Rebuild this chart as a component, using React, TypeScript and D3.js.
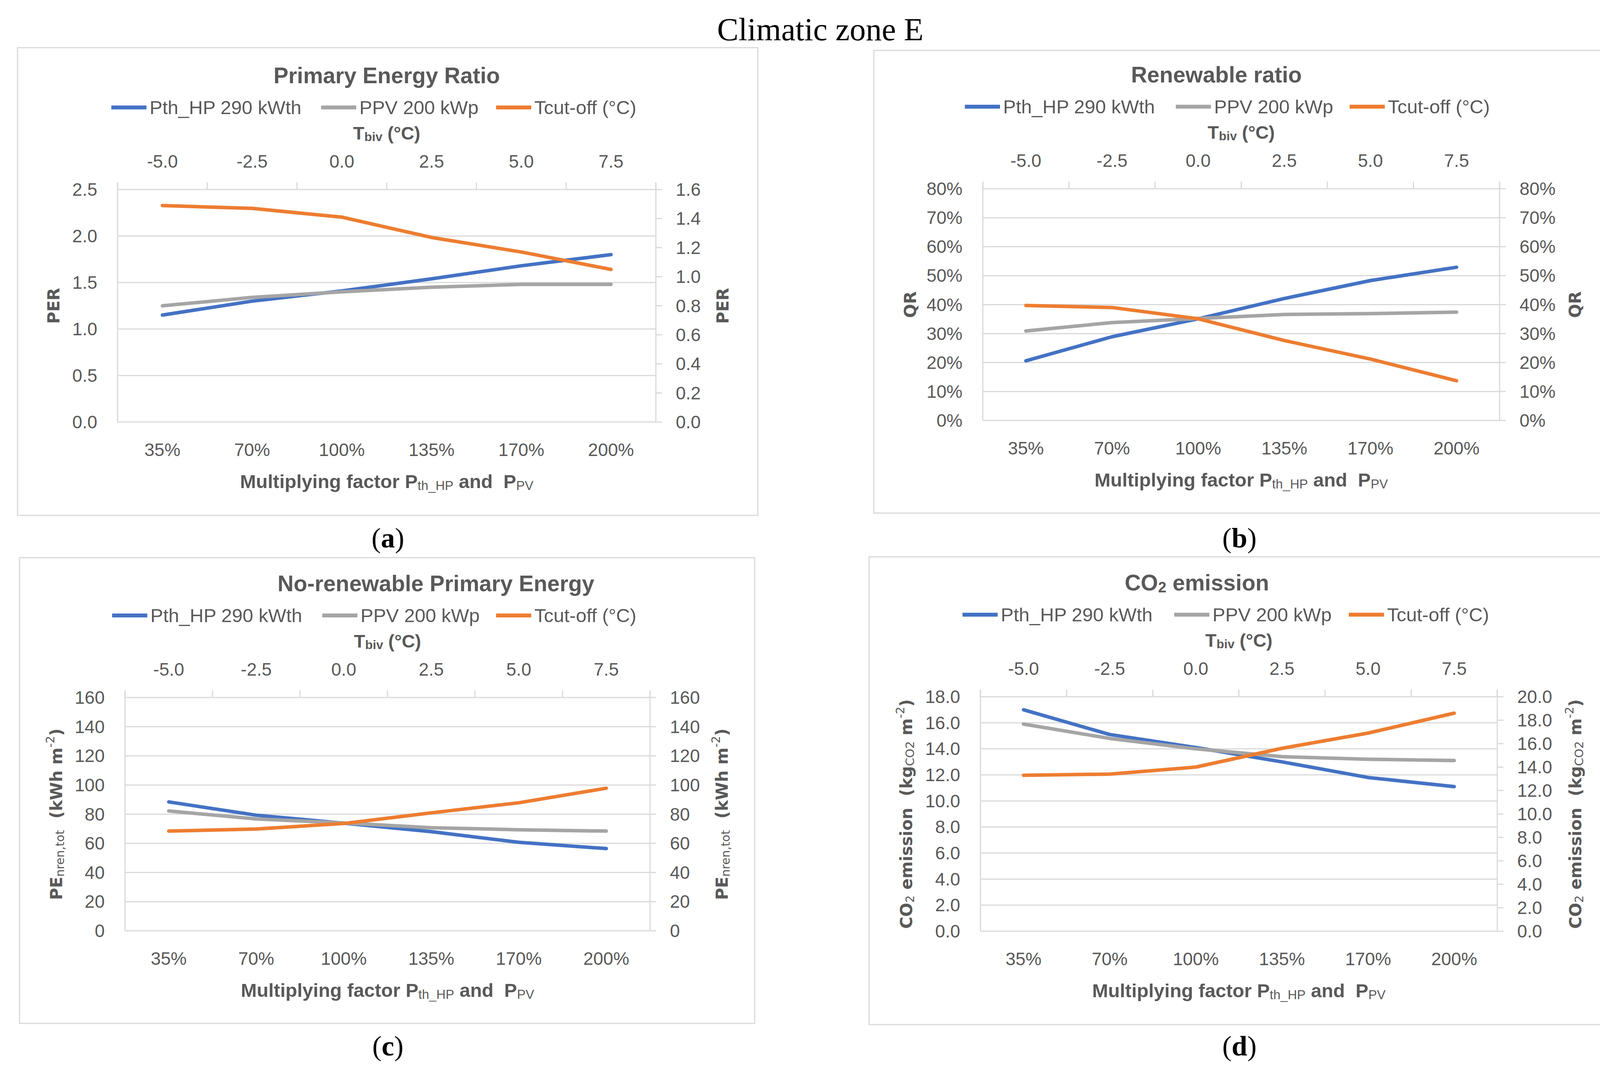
import React from 'react';
import * as d3 from 'd3';

const W = 4174;
const H = 2751;

const categories = ['35%', '70%', '100%', '135%', '170%', '200%'];
const tbivLabels = ['-5.0', '-2.5', '0.0', '2.5', '5.0', '7.5'];
const seriesNames = ['Pth_HP 290 kWth', 'PPV 200 kWp', 'Tcut-off (°C)'];
const seriesColors = ['#4472C4', '#A5A5A5', '#ED7D31'];

// (a) Primary Energy Ratio - Tcut-off is read on the secondary axis
const perPthHp = [1.15, 1.3, 1.41, 1.54, 1.68, 1.8];
const perPpv = [1.25, 1.34, 1.4, 1.45, 1.48, 1.48];
const perTcut = [1.49, 1.47, 1.41, 1.27, 1.17, 1.05];
const perTicks = [0, 0.5, 1, 1.5, 2, 2.5];
const perTicks2 = [0, 0.2, 0.4, 0.6, 0.8, 1.0, 1.2, 1.4, 1.6];

// (b) Renewable ratio (%)
const qrPthHp = [20.6, 28.9, 35.1, 42.1, 48.3, 52.9];
const qrPpv = [30.9, 33.8, 35.2, 36.6, 36.9, 37.4];
const qrTcut = [39.7, 39.0, 35.1, 27.6, 21.2, 13.7];
const qrTicks = [0, 10, 20, 30, 40, 50, 60, 70, 80];

// (c) No-renewable primary energy (kWh m-2)
const pePthHp = [88.4, 79.3, 73.8, 68.0, 60.7, 56.4];
const pePpv = [82.2, 76.7, 74.0, 70.7, 69.3, 68.4];
const peTcut = [68.4, 69.8, 73.6, 80.9, 87.8, 97.8];
const peTicks = [0, 20, 40, 60, 80, 100, 120, 140, 160];

// (d) CO2 emission (kg m-2)
const co2PthHp = [17.0, 15.1, 14.1, 13.0, 11.8, 11.1];
const co2Ppv = [15.9, 14.8, 14.0, 13.4, 13.2, 13.1];
const co2Tcut = [13.3, 13.4, 14.0, 15.6, 16.9, 18.6];
const co2Ticks = [0, 2, 4, 6, 8, 10, 12, 14, 16, 18];
const co2Ticks2 = [0, 2, 4, 6, 8, 10, 12, 14, 16, 18, 20];

const TXT = '#595959';
const GRID = '#D9D9D9';
const SANS = "'Liberation Sans', Arial, sans-serif";
const WIDE = "'DejaVu Sans', Verdana, sans-serif";
const SERIF = "'Liberation Serif', 'Times New Roman', serif";

const fmt1 = d3.format('.1f');
const fmtPct = (v: number) => `${v}%`;
const fmtInt = (v: number) => `${v}`;

type PanelProps = {
  box: [number, number, number, number];
  plot: [number, number, number, number];
  title: React.ReactNode;
  titleX: number;
  legendX: number[];
  yLabel: React.ReactNode;
  yLabelX: [number, number];
  leftTicks: number[];
  rightTicks: number[];
  fmt: (v: number) => string;
  series: number[][];
  tag: string;
  tagX: number;
  tagY: number;
};

const Panel: React.FC<PanelProps> = ({
  box, plot, title, titleX, legendX, yLabel, yLabelX,
  leftTicks, rightTicks, fmt, series, tag, tagX, tagY,
}) => {
  const [L, T, R, B] = plot;
  const x = d3.scaleBand<string>().domain(categories).range([L, R]);
  const xTop = d3.scaleBand<string>().domain(tbivLabels).range([L, R]);
  const bw = x.bandwidth();
  const yL = d3.scaleLinear().domain([leftTicks[0], leftTicks[leftTicks.length - 1]]).range([B, T]);
  const yR = d3.scaleLinear().domain([rightTicks[0], rightTicks[rightTicks.length - 1]]).range([B, T]);
  const cx = (i: number) => (x(categories[i]) as number) + bw / 2;
  const mkLine = (y: d3.ScaleLinear<number, number>) =>
    d3.line<number>().x((_, i) => cx(i)).y(d => y(d));

  const topBounds = [...tbivLabels.map(d => xTop(d) as number), R];
  const cy = (T + B) / 2;
  const midX = (L + R) / 2;

  return (
    <g>
      <rect x={box[0]} y={box[1]} width={box[2] - box[0]} height={box[3] - box[1]}
        fill="#fff" stroke={GRID} strokeWidth={3} />

      {/* title */}
      <text x={titleX} y={T - 292} fontFamily={SANS} fontWeight="bold" fontSize={57}
        fill={TXT} textAnchor="middle" dominantBaseline="central">{title}</text>

      {/* legend */}
      {seriesNames.map((name, i) => (
        <g key={name}>
          <line x1={legendX[i]} x2={legendX[i] + 90} y1={T - 210} y2={T - 210}
            stroke={seriesColors[i]} strokeWidth={10} />
          <text x={legendX[i] + 98} y={T - 210} fontFamily={SANS} fontSize={49} fill={TXT}
            dominantBaseline="central">{name}</text>
        </g>
      ))}

      {/* top axis title */}
      <text x={midX} y={T - 145} fontFamily={SANS} fontWeight="bold" fontSize={47} fill={TXT}
        textAnchor="middle" dominantBaseline="central" style={{ whiteSpace: 'pre' }}>
        <tspan>T</tspan>
        <tspan fontSize={32} dy={10}>biv</tspan>
        <tspan dy={-10}>{' (°C)'}</tspan>
      </text>

      {/* gridlines */}
      {leftTicks.map(t => (
        <line key={`g${t}`} x1={L} x2={R} y1={yL(t)} y2={yL(t)} stroke={GRID} strokeWidth={3} />
      ))}
      {/* right ticks */}
      {rightTicks.map(t => (
        <line key={`r${t}`} x1={R} x2={R + 16} y1={yR(t)} y2={yR(t)} stroke={GRID} strokeWidth={3} />
      ))}
      {/* top ticks */}
      {topBounds.map((bx, i) => (
        <line key={`t${i}`} x1={bx} x2={bx} y1={T - 18} y2={T} stroke={GRID} strokeWidth={3} />
      ))}
      <line x1={L} x2={L} y1={T - 18} y2={B} stroke={GRID} strokeWidth={3} />
      <line x1={R} x2={R} y1={T - 18} y2={B} stroke={GRID} strokeWidth={3} />

      {/* tick labels */}
      {leftTicks.map(t => (
        <text key={`lt${t}`} x={L - 52} y={yL(t)} fontFamily={SANS} fontSize={46} fill={TXT}
          textAnchor="end" dominantBaseline="central">{fmt(t)}</text>
      ))}
      {rightTicks.map(t => (
        <text key={`rt${t}`} x={R + 51} y={yR(t)} fontFamily={SANS} fontSize={46} fill={TXT}
          dominantBaseline="central">{fmt(t)}</text>
      ))}
      {categories.map((c, i) => (
        <text key={`b${c}`} x={cx(i)} y={B + 71} fontFamily={SANS} fontSize={46} fill={TXT}
          textAnchor="middle" dominantBaseline="central">{c}</text>
      ))}
      {tbivLabels.map(c => (
        <text key={`tb${c}`} x={(xTop(c) as number) + bw / 2} y={T - 72} fontFamily={SANS}
          fontSize={46} fill={TXT} textAnchor="middle" dominantBaseline="central">{c}</text>
      ))}

      {/* x axis title */}
      <text x={midX} y={B + 152} fontFamily={SANS} fontWeight="bold" fontSize={49} fill={TXT}
        textAnchor="middle" dominantBaseline="central" style={{ whiteSpace: 'pre' }}>
        <tspan>Multiplying factor P</tspan>
        <tspan fontSize={33} fontWeight="normal" dy={10}>th_HP</tspan>
        <tspan dy={-10}>{' and  P'}</tspan>
        <tspan fontSize={33} fontWeight="normal" dy={10}>PV</tspan>
      </text>

      {/* y axis titles */}
      {yLabelX.map((lx, i) => (
        <text key={`yl${i}`} transform={`translate(${lx},${cy}) rotate(-90)`} fontFamily={WIDE}
          fontWeight="bold" fontSize={42} fill={TXT} textAnchor="middle" dominantBaseline="central"
          style={{ whiteSpace: 'pre' }}>{yLabel}</text>
      ))}

      {/* series */}
      {series.map((s, i) => (
        <path key={`s${i}`} d={mkLine(i === 2 ? yR : yL)(s) as string} fill="none"
          stroke={seriesColors[i]} strokeWidth={9} strokeLinecap="round" strokeLinejoin="round" />
      ))}

      {/* panel tag */}
      <text x={tagX} y={tagY} fontFamily={SERIF} fontSize={72} fill="#000" textAnchor="middle"
        dominantBaseline="central">
        <tspan>(</tspan><tspan fontWeight="bold">{tag}</tspan><tspan>)</tspan>
      </text>
    </g>
  );
};

const App: React.FC = () => {
  return (
    <svg width={W} height={H} viewBox={`0 0 ${W} ${H}`}
      style={{ position: 'absolute', left: 0, top: 0, background: '#fff' }}>
      <rect width={W} height={H} fill="#fff" />
      <text x={2100} y={75} fontFamily={SERIF} fontSize={82} textAnchor="middle"
        dominantBaseline="central" fill="#000">Climatic zone E</text>

      <Panel
        box={[45, 122, 1940, 1319]}
        plot={[301, 485, 1679, 1080]}
        title="Primary Energy Ratio"
        titleX={990}
        legendX={[285, 822, 1270]}
        yLabel="PER"
        yLabelX={[137, 1850]}
        leftTicks={perTicks}
        rightTicks={perTicks2}
        fmt={fmt1}
        series={[perPthHp, perPpv, perTcut]}
        tag="a" tagX={993} tagY={1377}
      />
      <Panel
        box={[2237, 129, 4116, 1313]}
        plot={[2516, 483, 3839, 1076]}
        title="Renewable ratio"
        titleX={3114}
        legendX={[2470, 3010, 3455]}
        yLabel="QR"
        yLabelX={[2330, 4032]}
        leftTicks={qrTicks}
        rightTicks={qrTicks}
        fmt={fmtPct}
        series={[qrPthHp, qrPpv, qrTcut]}
        tag="b" tagX={3173} tagY={1377}
      />
      <Panel
        box={[50, 1427, 1932, 2619]}
        plot={[320, 1785, 1664, 2382]}
        title="No-renewable Primary Energy"
        titleX={1116}
        legendX={[287, 825, 1270]}
        yLabel={
          <>
            <tspan>PE</tspan>
            <tspan fontSize={30} fontWeight="normal" dy={9}>nren,tot</tspan>
            <tspan dy={-9}>{'  (kWh m'}</tspan>
            <tspan fontSize={30} fontWeight="normal" dy={-16}>-2</tspan>
            <tspan dy={16}>)</tspan>
          </>
        }
        yLabelX={[144, 1848]}
        leftTicks={peTicks}
        rightTicks={peTicks}
        fmt={fmtInt}
        series={[pePthHp, pePpv, peTcut]}
        tag="c" tagX={993} tagY={2677}
      />
      <Panel
        box={[2225, 1425, 4118, 2622]}
        plot={[2510, 1783, 3833, 2383]}
        title={
          <>
            <tspan>CO</tspan>
            <tspan fontSize={38} dy={12}>2</tspan>
            <tspan dy={-12}>{' emission'}</tspan>
          </>
        }
        titleX={3064}
        legendX={[2464, 3006, 3453]}
        yLabel={
          <>
            <tspan>CO</tspan>
            <tspan fontSize={30} fontWeight="normal" dy={9}>2</tspan>
            <tspan dy={-9}>{' emission  (kg'}</tspan>
            <tspan fontSize={30} fontWeight="normal" dy={9}>CO2</tspan>
            <tspan dy={-9}>{' m'}</tspan>
            <tspan fontSize={30} fontWeight="normal" dy={-16}>-2</tspan>
            <tspan dy={16}>)</tspan>
          </>
        }
        yLabelX={[2320, 4033]}
        leftTicks={co2Ticks}
        rightTicks={co2Ticks2}
        fmt={fmt1}
        series={[co2PthHp, co2Ppv, co2Tcut]}
        tag="d" tagX={3173} tagY={2677}
      />
    </svg>
  );
};

export default App;
